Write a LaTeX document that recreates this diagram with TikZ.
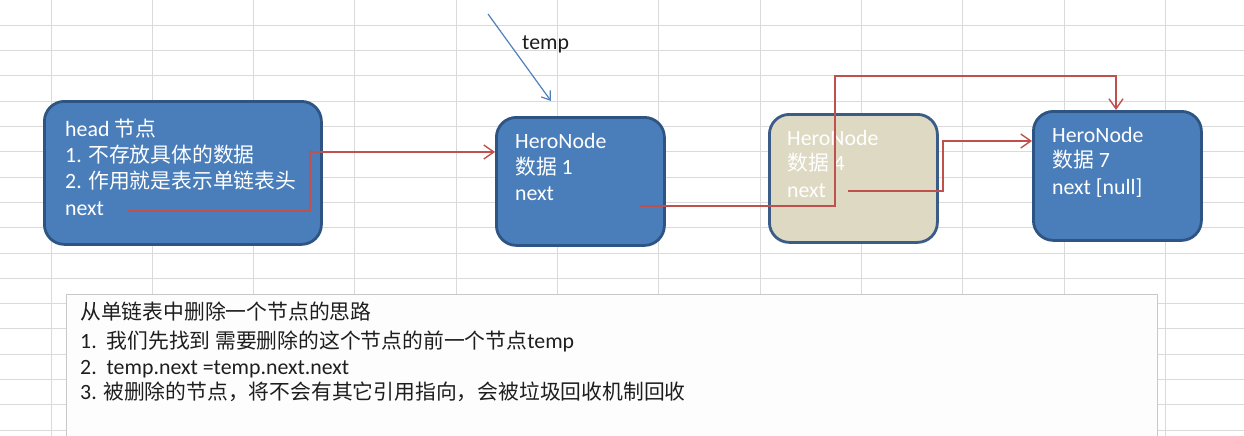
\documentclass[tikz,border=0pt]{standalone}
\usepackage{fontspec}
\setmainfont{Carlito}[Scale=1.05]
\newfontfamily\cjk{Noto Sans CJK SC}
\usetikzlibrary{arrows.meta}
\newcommand{\zh}[1]{{\cjk #1}}
\definecolor{boxblue}{RGB}{74,126,187}
\definecolor{boxedge}{RGB}{46,84,132}
\definecolor{beige}{RGB}{221,217,195}
\definecolor{beigeedge}{RGB}{58,92,134}
\definecolor{linkred}{RGB}{192,80,77}
\definecolor{tempblue}{RGB}{79,129,189}
\definecolor{gridgray}{RGB}{218,218,218}
\definecolor{notegray}{RGB}{200,200,200}
\definecolor{notefill}{RGB}{252,253,252}
\definecolor{inkdark}{RGB}{30,30,30}
\begin{document}
\begin{tikzpicture}[x=1pt,y=-1pt,
  gridline/.style={draw=gridgray,line width=1pt},
  nodebox/.style={draw=boxedge,fill=boxblue,line width=2.8pt,rounded corners=20pt,inner sep=0pt,anchor=north west},
  delbox/.style={nodebox,fill=beige,draw=beigeedge},
  boxtext/.style={anchor=base west,inner sep=0pt,text=white,font=\fontsize{20.8}{24}\selectfont},
  notetext/.style={anchor=base west,inner sep=0pt,text=inkdark,font=\fontsize{20.8}{24}\selectfont},
  link/.style={draw=linkred,line width=1.4pt,-{Straight Barb[length=10pt,width=14pt]}},
  pointer/.style={draw=tempblue,line width=1.2pt,-{Straight Barb[length=8pt,width=11pt]}},
]
\useasboundingbox (0,0) rectangle (1244,436);
\fill[white] (0,0) rectangle (1244,436);
% spreadsheet grid
\foreach \k in {0,...,11} \draw[gridline] ({51+101.3*\k},0) -- ({51+101.3*\k},436);
\foreach \k in {1,...,17} \draw[gridline] (0,{25.3*\k}) -- (1244,{25.3*\k});
% note box
\node[draw=notegray,fill=notefill,line width=1.2pt,inner sep=0pt,anchor=north west,minimum width=1091pt,minimum height=150pt] (note) at (66,294) {};
% list nodes
\node[nodebox,minimum width=277pt,minimum height=143pt] (head) at (43,100) {};
\node[nodebox,minimum width=168pt,minimum height=128pt] (n1) at (495,116) {};
\node[delbox,minimum width=168pt,minimum height=128pt] (n4) at (768,113) {};
\node[nodebox,minimum width=168pt,minimum height=129pt] (n7) at (1032,110) {};
% texts
\node[boxtext] (ht1) at (65,136) {head \zh{节点}};
\node[boxtext] (ht2) at (65,162) {1. \zh{不存放具体的数据}};
\node[boxtext] (ht3) at (65,188) {2. \zh{作用就是表示单链表头}};
\node[boxtext] (ht4) at (65,215) {next};
\node[boxtext] (at1) at (515,148) {HeroNode};
\node[boxtext] (at2) at (515,174) {\zh{数据} 1};
\node[boxtext] (at3) at (515,200) {next};
\node[boxtext] (bt1) at (787,145) {HeroNode};
\node[boxtext] (bt2) at (787,170) {\zh{数据} 4};
\node[boxtext] (bt3) at (787,197) {next};
\node[boxtext] (ct1) at (1052,142) {HeroNode};
\node[boxtext] (ct2) at (1052,167) {\zh{数据} 7};
\node[boxtext] (ct3) at (1052,194) {next [null]};
\node[notetext] (b1) at (80,319) {\zh{从单链表中删除一个节点的思路}};
\node[notetext] (b2) at (80,348) {1.\ \ \zh{我们先找到 需要删除的这个节点的前一个节点}temp};
\node[notetext] (b3) at (80,374) {2.\ \ temp.next =temp.next.next};
\node[notetext] (b4) at (80,399) {3. \zh{被删除的节点，将不会有其它引用指向，会被垃圾回收机制回收}};
% temp pointer
\node[notetext] (templabel) at (522,50) {temp};
\coordinate (tstart) at (488,14);
\coordinate (tend) at (551,101);
\draw[pointer] (tstart) -- (tend);
% links
\coordinate (hn) at (128,211);
\coordinate (n1n) at (640,206);
\coordinate (n4n) at (848,191);
\coordinate (y152) at (0,152);
\coordinate (y141) at (0,141);
\coordinate (x1116) at (1116,0);
\draw[link] (hn) -- (310,211) -- (310,152) -- (n1.west |- y152);
\draw[link] (n1n) -- (835,206) -- (835,76) -- (1116,76) -- (x1116 |- n7.north);
\draw[link] (n4n) -- (943,191) -- (943,141) -- (n7.west |- y141);
\end{tikzpicture}
\end{document}
